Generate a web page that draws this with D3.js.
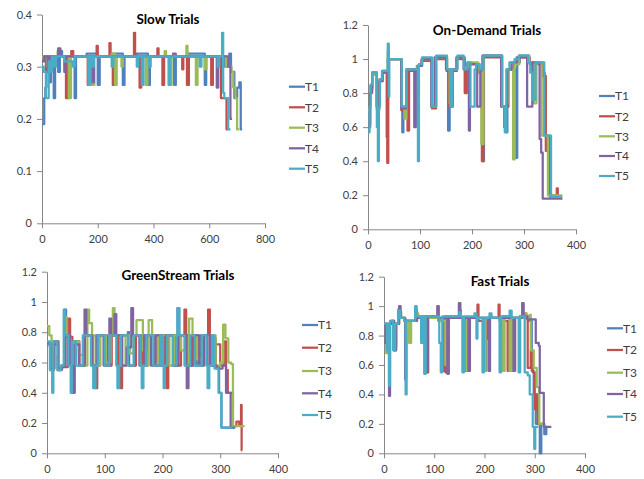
<!DOCTYPE html>
<html>
<head>
<meta charset="utf-8">
<script src="https://cdn.jsdelivr.net/npm/d3@7"></script>
<style>
body { margin: 0; background: #fff; }
text { font-family: Lato, "Open Sans", sans-serif; fill: #404040; }
</style>
</head>
<body>
<div id="chart"></div>
<script>
// series names and colours (Excel palette)
var seriesNames = ["T1", "T2", "T3", "T4", "T5"];
var seriesColors = ["#4F81BD", "#C0504D", "#9BBB59", "#8064A2", "#4BACC6"];

// tick values
var slowXTicks = [0, 200, 400, 600, 800];
var slowYTicks = [0, 0.1, 0.2, 0.3, 0.4];
var otherXTicks = [0, 100, 200, 300, 400];
var otherYTicks = [0, 0.2, 0.4, 0.6, 0.8, 1, 1.2];

// data: [time, value] - each value holds until the next time
var slowT1 = [[0,0.19],[8,0.24],[12,0.26],[16,0.3],[22,0.32],[28,0.27],[32,0.32],[42,0.24],[47,0.32],[58,0.29],[64,0.33],[72,0.32],[94,0.24],[99,0.32],[117,0.24],[122,0.32],[160,0.325],[200,0.265],[207,0.32],[250,0.325],[290,0.265],[296,0.32],[340,0.325],[380,0.265],[387,0.32],[430,0.32],[474,0.265],[480,0.32],[520,0.325],[584,0.265],[589,0.32],[640,0.32],[656,0.3],[672,0.325],[678,0.29],[690,0.24],[700,0.26],[708,0.27],[713,0.18],[718,0.18]];
var slowT2 = [[0,0.32],[10,0.32],[14,0.29],[20,0.32],[40,0.3],[48,0.32],[86,0.24],[92,0.32],[105,0.33],[112,0.32],[164,0.265],[172,0.32],[196,0.34],[200,0.32],[242,0.345],[246,0.32],[254,0.265],[262,0.32],[330,0.365],[334,0.32],[350,0.26],[356,0.32],[414,0.335],[418,0.32],[432,0.265],[438,0.32],[503,0.295],[507,0.32],[520,0.265],[527,0.32],[607,0.265],[613,0.32],[642,0.24],[662,0.18],[668,0.18]];
var slowT3 = [[0,0.32],[18,0.3],[26,0.32],[56,0.33],[64,0.32],[96,0.24],[104,0.32],[178,0.265],[188,0.32],[250,0.325],[262,0.265],[268,0.32],[285,0.3],[290,0.32],[354,0.32],[372,0.265],[378,0.32],[440,0.33],[445,0.32],[458,0.265],[465,0.32],[518,0.34],[522,0.32],[552,0.265],[558,0.32],[584,0.295],[590,0.32],[640,0.32],[660,0.3],[680,0.29],[686,0.26],[694,0.24],[700,0.18],[708,0.18]];
var slowT4 = [[0,0.31],[8,0.32],[20,0.29],[26,0.32],[58,0.335],[66,0.32],[80,0.29],[84,0.32],[180,0.27],[186,0.32],[470,0.325],[480,0.32],[620,0.32],[627,0.26],[632,0.32],[660,0.32],[668,0.3],[676,0.2],[682,0.2]];
var slowT5 = [[0,0.3],[6,0.29],[14,0.24],[24,0.31],[30,0.29],[36,0.32],[42,0.3],[50,0.32],[80,0.31],[110,0.3],[118,0.32],[166,0.265],[174,0.32],[180,0.3],[186,0.32],[250,0.3],[256,0.32],[340,0.3],[345,0.32],[358,0.265],[364,0.32],[384,0.3],[390,0.32],[454,0.265],[460,0.32],[566,0.3],[572,0.32],[630,0.3],[636,0.32],[646,0.365],[650,0.25],[654,0.24],[668,0.18],[676,0.18]];

var odT1 = [[0,0.6],[4,0.83],[8,0.92],[17,0.72],[22,0.88],[27,0.93],[38,1.0],[64,0.72],[66,0.57],[68,0.72],[76,0.94],[94,0.96],[103,1.0],[122,0.72],[130,1.01],[151,0.93],[154,0.58],[157,0.72],[162,0.94],[171,1.01],[186,0.94],[194,0.97],[212,0.94],[220,0.4],[223,1.02],[258,0.72],[266,0.57],[268,0.94],[284,0.42],[287,0.98],[292,1.02],[310,0.98],[318,0.76],[322,0.98],[336,0.92],[340,0.55],[350,0.19],[372,0.19]];
var odT2 = [[0,0.62],[4,0.82],[8,0.91],[17,0.72],[22,0.87],[28,0.92],[36,0.54],[37,0.39],[39,1.0],[64,0.7],[76,0.58],[79,0.93],[96,0.96],[103,0.99],[123,0.71],[131,1.0],[152,0.93],[156,0.72],[160,0.93],[171,1.0],[186,0.8],[190,0.97],[212,0.94],[219,0.4],[222,1.01],[257,0.72],[262,0.6],[264,0.72],[270,0.94],[280,0.98],[290,1.01],[311,0.97],[318,0.8],[322,0.97],[336,0.9],[342,0.46],[348,0.2],[362,0.19],[363,0.24],[365,0.19],[372,0.19]];
var odT3 = [[0,0.7],[4,0.84],[8,0.91],[17,0.7],[22,0.88],[28,0.92],[38,1.05],[40,1.0],[64,0.72],[70,0.65],[74,0.94],[95,0.96],[104,1.0],[123,0.72],[131,1.01],[152,0.94],[157,0.74],[162,0.94],[172,1.01],[185,0.95],[192,0.98],[212,0.92],[218,0.5],[222,1.02],[257,0.72],[266,0.74],[270,0.94],[279,0.41],[282,0.97],[291,1.02],[310,0.98],[319,0.74],[324,0.98],[334,0.55],[346,0.2],[372,0.19]];
var odT4 = [[0,0.6],[4,0.8],[8,0.92],[17,0.72],[22,0.87],[28,0.92],[39,1.0],[64,0.71],[74,0.94],[89,0.6],[92,0.94],[97,0.96],[104,1.0],[122,0.72],[128,1.01],[150,0.94],[158,0.72],[163,0.94],[170,1.01],[184,0.94],[194,0.58],[196,0.97],[210,0.72],[216,0.94],[220,1.02],[256,0.72],[268,0.94],[276,0.98],[286,1.01],[306,0.72],[316,0.98],[328,0.98],[330,0.53],[333,0.45],[336,0.18],[374,0.18]];
var odT5 = [[0,0.57],[3,0.72],[5,0.85],[8,0.92],[17,0.6],[19,0.4],[21,0.72],[23,0.88],[27,0.93],[38,1.09],[40,0.78],[41,1.0],[65,0.72],[74,0.94],[96,0.4],[98,0.97],[104,1.01],[123,0.72],[131,1.02],[152,0.94],[158,0.72],[162,0.94],[172,1.02],[184,0.94],[191,0.98],[197,0.72],[205,0.94],[208,0.97],[215,0.94],[222,1.02],[258,0.72],[263,0.57],[266,0.94],[272,0.98],[282,1.0],[290,1.02],[308,0.98],[312,0.92],[316,0.76],[322,0.98],[339,0.55],[352,0.19],[373,0.19]];

var gsT1 = [[0,0.72],[6,0.55],[10,0.56],[13,0.74],[20,0.55],[26,0.58],[31,0.95],[33,0.77],[39,0.58],[47,0.74],[55,0.58],[64,0.78],[77,0.58],[82,0.44],[85,0.58],[90,0.78],[102,0.58],[110,0.78],[121,0.58],[128,0.78],[140,0.8],[142,0.58],[152,0.78],[163,0.58],[170,0.78],[186,0.58],[194,0.78],[202,0.58],[210,0.78],[220,0.58],[226,0.96],[229,0.78],[240,0.58],[250,0.78],[258,0.58],[266,0.78],[278,0.58],[288,0.76],[292,0.57],[298,0.4],[302,0.17],[324,0.17]];
var gsT2 = [[0,0.73],[5,0.7],[8,0.55],[12,0.74],[19,0.56],[26,0.57],[36,0.89],[40,0.77],[44,0.58],[49,0.74],[56,0.58],[66,0.78],[79,0.58],[84,0.43],[87,0.58],[92,0.78],[104,0.58],[112,0.78],[124,0.58],[127,0.43],[130,0.78],[142,0.58],[154,0.78],[166,0.58],[174,0.78],[188,0.58],[198,0.78],[205,0.58],[207,0.43],[210,0.78],[222,0.58],[232,0.78],[238,0.95],[241,0.78],[246,0.58],[252,0.78],[262,0.58],[270,0.78],[279,0.95],[282,0.58],[292,0.72],[300,0.58],[306,0.74],[310,0.55],[313,0.4],[322,0.18],[328,0.21],[333,0.19],[336,0.32],[337,0.02],[338,0.02]];
var gsT3 = [[0,0.84],[4,0.78],[8,0.56],[13,0.64],[18,0.55],[24,0.58],[30,0.9],[34,0.78],[40,0.62],[44,0.4],[47,0.74],[55,0.65],[62,0.58],[70,0.95],[73,0.86],[78,0.78],[84,0.58],[92,0.78],[102,0.6],[110,0.78],[114,0.96],[117,0.78],[128,0.58],[136,0.78],[144,0.66],[150,0.78],[155,0.88],[166,0.68],[172,0.58],[176,0.88],[182,0.78],[192,0.6],[200,0.78],[212,0.58],[220,0.78],[232,0.68],[240,0.58],[246,0.89],[252,0.78],[260,0.62],[270,0.78],[292,0.58],[300,0.6],[305,0.85],[309,0.76],[314,0.6],[319,0.59],[322,0.18],[342,0.18]];
var gsT4 = [[0,0.73],[6,0.56],[12,0.72],[19,0.56],[26,0.58],[32,0.78],[40,0.58],[45,0.4],[48,0.72],[56,0.58],[65,0.95],[68,0.78],[78,0.58],[86,0.78],[98,0.58],[108,0.89],[111,0.78],[117,0.92],[120,0.78],[130,0.58],[138,0.7],[146,0.96],[149,0.78],[160,0.58],[168,0.78],[180,0.58],[188,0.78],[198,0.58],[206,0.78],[218,0.58],[228,0.78],[242,0.43],[245,0.58],[254,0.78],[264,0.58],[272,0.78],[284,0.58],[294,0.56],[304,0.58],[310,0.4],[318,0.17],[326,0.17]];
var gsT5 = [[0,0.74],[5,0.55],[9,0.4],[11,0.74],[18,0.55],[24,0.58],[29,0.95],[31,0.78],[37,0.58],[41,0.4],[43,0.74],[50,0.58],[62,0.78],[76,0.58],[80,0.43],[84,0.58],[88,0.78],[100,0.58],[108,0.78],[120,0.58],[122,0.43],[125,0.58],[128,0.78],[140,0.58],[150,0.78],[162,0.58],[164,0.43],[167,0.58],[172,0.78],[184,0.58],[196,0.78],[200,0.58],[202,0.43],[204,0.58],[208,0.78],[218,0.58],[224,0.78],[226,0.96],[229,0.78],[238,0.58],[248,0.78],[256,0.58],[268,0.78],[276,0.58],[278,0.43],[281,0.58],[286,0.78],[290,0.56],[297,0.4],[302,0.17],[322,0.17]];

var fT1 = [[0,0.88],[5,0.75],[8,0.88],[14,0.9],[20,0.7],[24,0.88],[29,0.98],[32,0.92],[40,0.9],[62,0.98],[65,0.93],[74,0.78],[77,0.93],[84,0.55],[87,0.93],[108,0.9],[118,0.56],[121,0.93],[150,0.97],[153,0.92],[160,0.56],[164,0.92],[200,0.56],[203,0.92],[232,0.56],[236,0.93],[254,0.56],[257,0.92],[270,0.93],[288,0.9],[294,0.56],[298,0.4],[302,0.2],[310,0.0],[313,0.2],[319,0.13],[323,0.18],[325,0.18]];
var fT2 = [[0,0.88],[6,0.7],[10,0.88],[14,0.89],[20,0.72],[24,0.88],[30,0.96],[34,0.92],[42,0.9],[63,0.96],[66,0.92],[85,0.55],[88,0.92],[110,0.9],[122,0.55],[125,0.92],[158,0.56],[162,0.92],[186,1.01],[188,0.9],[204,0.78],[208,0.92],[228,1.01],[230,0.9],[246,0.56],[250,0.92],[276,0.95],[282,0.92],[286,0.58],[292,0.7],[296,0.55],[300,0.3],[303,0.4],[306,0.2],[314,0.2]];
var fT3 = [[0,0.88],[4,0.68],[8,0.88],[14,0.9],[20,0.74],[24,0.88],[30,0.95],[34,0.92],[40,0.9],[50,0.75],[54,0.9],[64,0.95],[68,0.92],[82,0.56],[85,0.92],[110,0.9],[122,0.6],[125,0.92],[164,0.56],[168,0.92],[198,0.56],[202,0.92],[236,0.56],[240,0.92],[250,0.56],[254,0.92],[278,0.95],[284,0.92],[290,0.94],[292,0.7],[298,0.58],[304,0.45],[309,0.2],[318,0.2]];
var fT4 = [[0,0.75],[3,0.88],[10,0.39],[12,0.88],[16,0.9],[20,0.7],[24,0.88],[30,1.0],[33,0.92],[42,0.5],[44,0.9],[66,0.92],[84,0.56],[87,0.93],[106,1.0],[109,0.92],[126,0.54],[129,0.92],[149,1.02],[152,0.92],[168,0.56],[171,0.92],[208,0.56],[211,0.92],[258,0.56],[261,0.92],[275,1.02],[278,0.93],[285,0.91],[302,0.75],[308,0.73],[310,0.41],[318,0.18],[333,0.18]];
var fT5 = [[0,0.88],[6,0.7],[8,0.88],[10,0.46],[12,0.9],[18,0.7],[22,0.88],[28,0.97],[32,0.92],[40,0.9],[43,0.4],[45,0.9],[62,1.0],[65,0.93],[74,0.75],[77,0.93],[80,0.54],[83,0.93],[110,0.75],[113,0.55],[116,0.93],[150,0.96],[153,0.93],[156,0.55],[159,0.93],[180,0.95],[184,0.78],[186,0.92],[196,0.55],[199,0.92],[210,0.95],[214,0.92],[230,0.55],[233,0.93],[250,0.97],[254,0.92],[268,0.55],[271,0.93],[280,0.55],[286,0.53],[290,0.4],[296,0.18],[299,0.03],[301,0.18],[307,0.18]];

// panel layout
var panels = [
  {title: "Slow Trials", series: [slowT1, slowT2, slowT3, slowT4, slowT5],
   xMax: 800, yMax: 0.4, xTicks: slowXTicks, yTicks: slowYTicks,
   left: 42, right: 265, top: 14.5, bottom: 223.3, titleX: 168, titleY: 23.5,
   legendX: 289, legendY: [86.7, 107.3, 127.7, 148.3, 168.7]},
  {title: "On-Demand Trials", series: [odT1, odT2, odT3, odT4, odT5],
   xMax: 400, yMax: 1.2, xTicks: otherXTicks, yTicks: otherYTicks,
   left: 368, right: 576, top: 25, bottom: 229.3, titleX: 487, titleY: 34.5,
   legendX: 599, legendY: [96, 116.3, 136.3, 156, 176]},
  {title: "GreenStream Trials", series: [gsT1, gsT2, gsT3, gsT4, gsT5],
   xMax: 400, yMax: 1.2, xTicks: otherXTicks, yTicks: otherYTicks,
   left: 47, right: 278, top: 271.7, bottom: 453.3, titleX: 178, titleY: 280.3,
   legendX: 302, legendY: [325, 347.7, 371, 393.3, 415]},
  {title: "Fast Trials", series: [fT1, fT2, fT3, fT4, fT5],
   xMax: 400, yMax: 1.2, xTicks: otherXTicks, yTicks: otherYTicks,
   left: 384, right: 585, top: 276.7, bottom: 453.3, titleX: 500, titleY: 285.7,
   legendX: 607, legendY: [328.3, 350, 372.7, 394, 416.7]}
];

var svg = d3.select("#chart")
  .append("svg")
  .attr("width", 644)
  .attr("height", 479);

var fmt = d3.format("~g");

panels.forEach(function(p) {
  var x = d3.scaleLinear().domain([0, p.xMax]).range([p.left, p.right]);
  var y = d3.scaleLinear().domain([0, p.yMax]).range([p.bottom, p.top]);

  // axes
  var gx = svg.append("g")
    .attr("transform", "translate(0," + p.bottom + ")")
    .call(d3.axisBottom(x).tickValues(p.xTicks).tickFormat(fmt)
      .tickSize(5).tickSizeOuter(0).tickPadding(7));
  var gy = svg.append("g")
    .attr("transform", "translate(" + p.left + ",0)")
    .call(d3.axisLeft(y).tickValues(p.yTicks).tickFormat(fmt)
      .tickSize(5).tickSizeOuter(0).tickPadding(5));

  [gx, gy].forEach(function(g) {
    g.select(".domain").attr("stroke", "#868686");
    g.selectAll(".tick line").attr("stroke", "#868686");
    g.selectAll(".tick text")
      .style("font-size", "11px")
      .attr("fill", "#404040");
  });

  // lines
  var line = d3.line()
    .x(d => x(d[0]))
    .y(d => y(d[1]))
    .curve(d3.curveStepAfter);

  p.series.forEach(function(s, i) {
    svg.append("path")
      .datum(s)
      .attr("fill", "none")
      .attr("stroke", seriesColors[i])
      .attr("stroke-width", 2.25)
      .attr("stroke-linejoin", "round")
      .attr("d", line);
  });

  // title
  svg.append("text")
    .attr("x", p.titleX)
    .attr("y", p.titleY)
    .attr("text-anchor", "middle")
    .style("font-size", "13.5px")
    .style("font-weight", "bold")
    .style("fill", "#000")
    .text(p.title);

  // legend
  seriesNames.forEach(function(name, i) {
    svg.append("line")
      .attr("x1", p.legendX)
      .attr("x2", p.legendX + 16)
      .attr("y1", p.legendY[i])
      .attr("y2", p.legendY[i])
      .attr("stroke", seriesColors[i])
      .attr("stroke-width", 2.25);
    svg.append("text")
      .attr("x", p.legendX + 16)
      .attr("y", p.legendY[i])
      .attr("dy", "0.35em")
      .style("font-size", "12px")
      .text(name);
  });
});
</script>
</body>
</html>
